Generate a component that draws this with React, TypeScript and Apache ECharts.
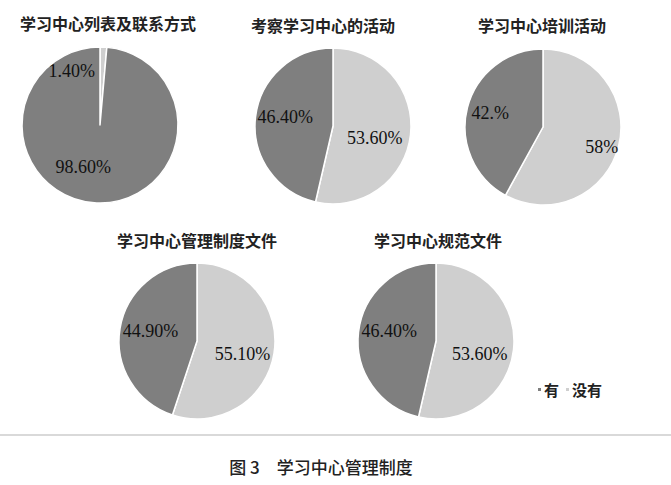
import React, { useEffect, useRef } from "react";
import * as echarts from "echarts";

const categories = ["没有", "有"]; // light slice first (clockwise from top), dark slice second
const legendOrder = ["有", "没有"];
const chartTitles = [
  "学习中心列表及联系方式",
  "考察学习中心的活动",
  "学习中心培训活动",
  "学习中心管理制度文件",
  "学习中心规范文件",
];
const noValues = [1.4, 53.6, 58, 55.1, 53.6];
const yesValues = [98.6, 46.4, 42, 44.9, 46.4];
const noLabels = ["1.40%", "53.60%", "58%", "55.10%", "53.60%"];
const yesLabels = ["98.60%", "46.40%", "42.%", "44.90%", "46.40%"];
const caption = "图 3　学习中心管理制度";

// layout (positions only)
const centers = [
  [100, 125],
  [333, 126],
  [543, 127],
  [197, 341],
  [436, 341],
];
const titlePos = [
  [108, 23],
  [323, 25],
  [542, 25],
  [197, 240],
  [438, 240],
];
const labelShift = [
  [[-30, -12], [-15, 0]],
  [[0, 7], [-6, -4]],
  [[18, 10], [-12, -4]],
  [[4, 6], [-5, -3]],
  [[2, 8], [-5, -5]],
];
const RADIUS = 78;
const COLORS = { 没有: "#cfcfcf", 有: "#7f7f7f" } as Record<string, string>;

export default function App() {
  const ref = useRef<HTMLDivElement>(null);
  useEffect(() => {
    document.body.style.margin = "0";
    if (!ref.current) return;
    const chart = echarts.init(ref.current, undefined, { renderer: "svg" });
    const series = chartTitles.map((t, i) => ({
      type: "pie",
      name: t,
      center: centers[i],
      radius: RADIUS,
      startAngle: 90,
      clockwise: true,
      avoidLabelOverlap: false,
      itemStyle: { borderColor: "#ffffff", borderWidth: 1.5 },
      label: {
        show: true,
        position: "inside",
        fontFamily: "Liberation Serif",
        fontSize: 18,
        color: "#111111",
        formatter: (p: any) => (p.dataIndex === 0 ? noLabels[i] : yesLabels[i]),
      },
      labelLine: { show: false },
      labelLayout: (p: any) => ({
        dx: labelShift[i][p.dataIndex][0],
        dy: labelShift[i][p.dataIndex][1],
      }),
      emphasis: { disabled: true },
      data: [
        { name: categories[0], value: noValues[i], itemStyle: { color: COLORS[categories[0]] } },
        { name: categories[1], value: yesValues[i], itemStyle: { color: COLORS[categories[1]] } },
      ],
    }));
    const titles = chartTitles.map((t, i) => ({
      type: "text",
      x: titlePos[i][0],
      y: titlePos[i][1],
      style: {
        text: t,
        textAlign: "center",
        textVerticalAlign: "middle",
        fontFamily: "Noto Sans CJK SC",
        fontWeight: "bold",
        fontSize: 16,
        fill: "#222222",
      },
    }));
    chart.setOption({
      animation: false,
      backgroundColor: "#ffffff",
      color: ["#cfcfcf", "#7f7f7f"],
      legend: {
        data: legendOrder,
        left: 531,
        top: 377,
        icon: "rect",
        itemWidth: 5,
        itemHeight: 5,
        itemGap: 5,
        selectedMode: false,
        textStyle: {
          fontFamily: "Noto Sans CJK SC",
          fontWeight: "bold",
          fontSize: 15,
          color: "#222222",
          padding: [0, 0, 0, -3],
        },
      },
      graphic: [
        ...titles,
        {
          type: "line",
          shape: { x1: 0, y1: 435, x2: 671, y2: 435 },
          style: { stroke: "#cccccc", lineWidth: 1.5 },
        },
        {
          type: "text",
          x: 321,
          y: 466,
          style: {
            text: caption,
            textAlign: "center",
            textVerticalAlign: "middle",
            fontFamily: "Noto Sans CJK SC",
            fontWeight: 500,
            fontSize: 17,
            fill: "#222222",
          },
        },
      ],
      series,
    });
    return () => chart.dispose();
  }, []);
  return <div ref={ref} style={{ width: 671, height: 485 }} />;
}
